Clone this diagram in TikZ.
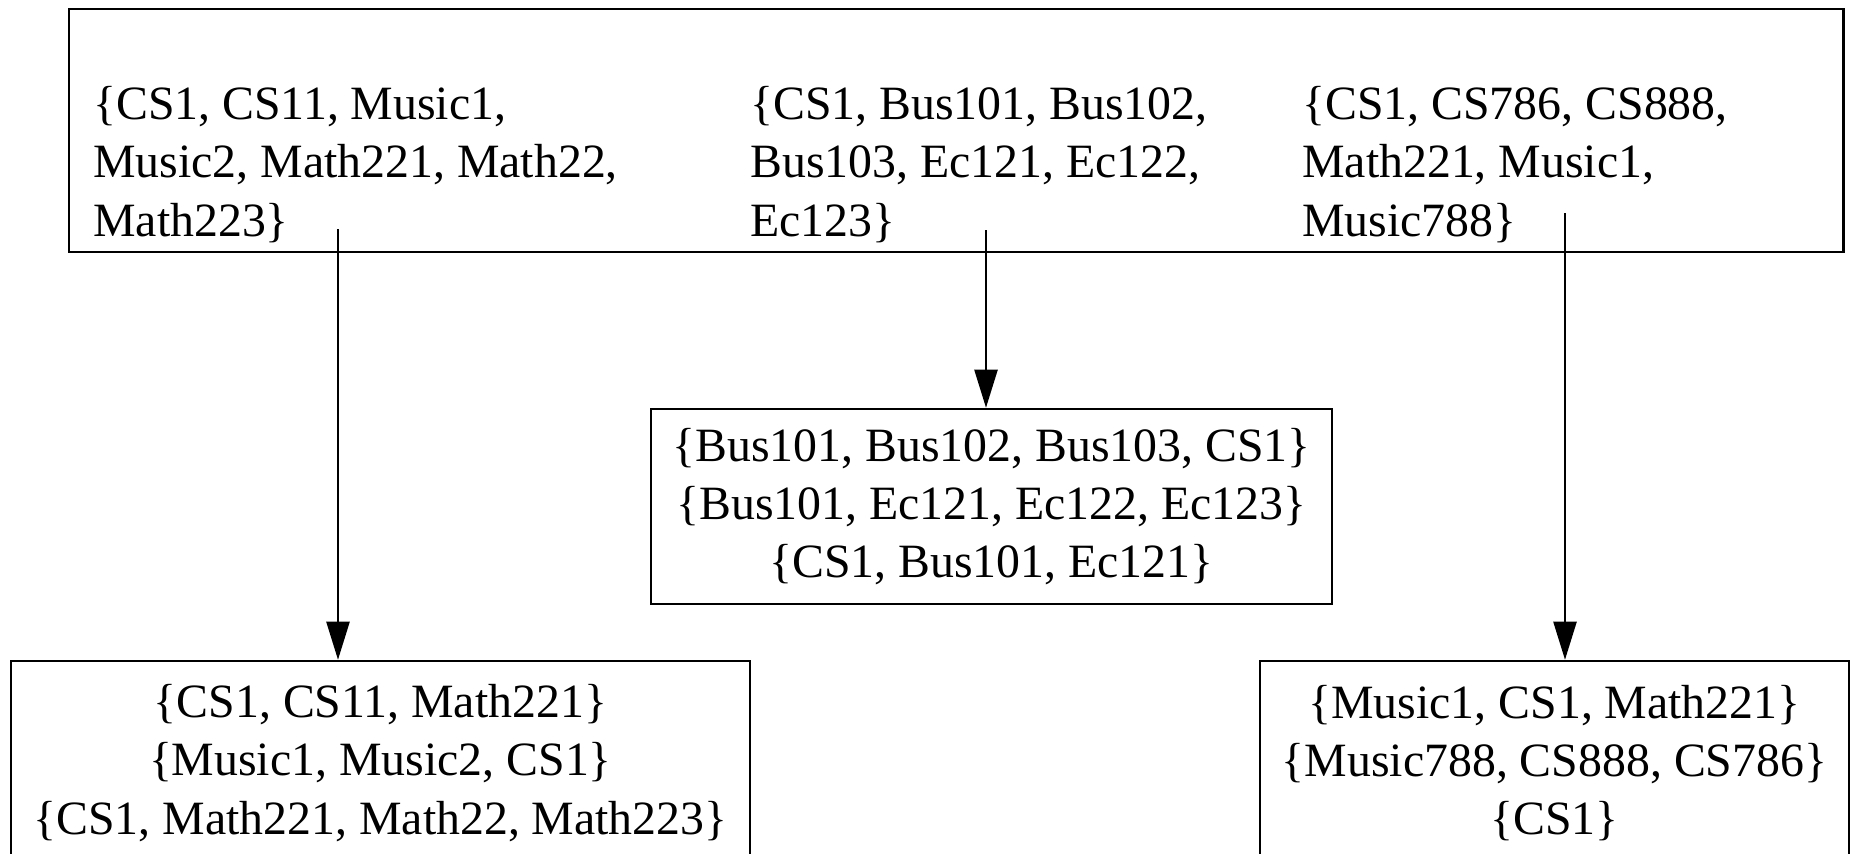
\documentclass[tikz,border=0pt]{standalone}
\usepackage{fontspec}
\setmainfont{Liberation Serif}
\usetikzlibrary{positioning, arrows.meta}

\tikzset{
  setbox/.style={draw, line width=1.8pt, rectangle, align=center, inner sep=0pt},
  setlist/.style={align=left, anchor=north west, inner sep=0pt},
  link/.style={line width=1.2pt, -{Triangle[length=0.95cm, width=0.58cm]}}
}

\begin{document}
\begin{tikzpicture}[x=0.025cm, y=-0.025cm, font=\fontsize{34}{41.5}\selectfont]
    \useasboundingbox (0,0) rectangle (1850,854);
    % Draw the big box with the three groups
    \node[setbox, minimum width=44.35cm, minimum height=6.075cm] (groups) at (956,130.5) {};
    \node[setlist] (g1) at (93,86) {\{CS1, CS11, Music1,\\Music2, Math221, Math22,\\Math223\}};
    \node[setlist] (g2) at (750,86) {\{CS1, Bus101, Bus102,\\Bus103, Ec121, Ec122,\\Ec123\}};
    \node[setlist] (g3) at (1302,86) {\{CS1, CS786, CS888,\\Math221, Music1,\\Music788\}};
    % Draw the boxes below
    \node[setbox, minimum width=17.025cm, minimum height=4.875cm] (split2) at (991.5,506.5)
        {\{Bus101, Bus102, Bus103, CS1\}\\\{Bus101, Ec121, Ec122, Ec123\}\\\{CS1, Bus101, Ec121\}};
    \node[setbox, minimum width=18.475cm, minimum height=5.1cm] (split1) at (380.5,763)
        {\{CS1, CS11, Math221\}\\\{Music1, Music2, CS1\}\\\{CS1, Math221, Math22, Math223\}};
    \node[setbox, minimum width=14.725cm, minimum height=5.1cm] (split3) at (1554.5,763)
        {\{Music1, CS1, Math221\}\\\{Music788, CS888, CS786\}\\\{CS1\}};
    % Draw the arrows
    \coordinate (s1) at (338,229);
    \coordinate (s2) at (986,230);
    \coordinate (s3) at (1565,213);
    \draw[link] (s1) -- (s1 |- split1.north);
    \draw[link] (s2) -- (s2 |- split2.north);
    \draw[link] (s3) -- (s3 |- split3.north);
\end{tikzpicture}
\end{document}
